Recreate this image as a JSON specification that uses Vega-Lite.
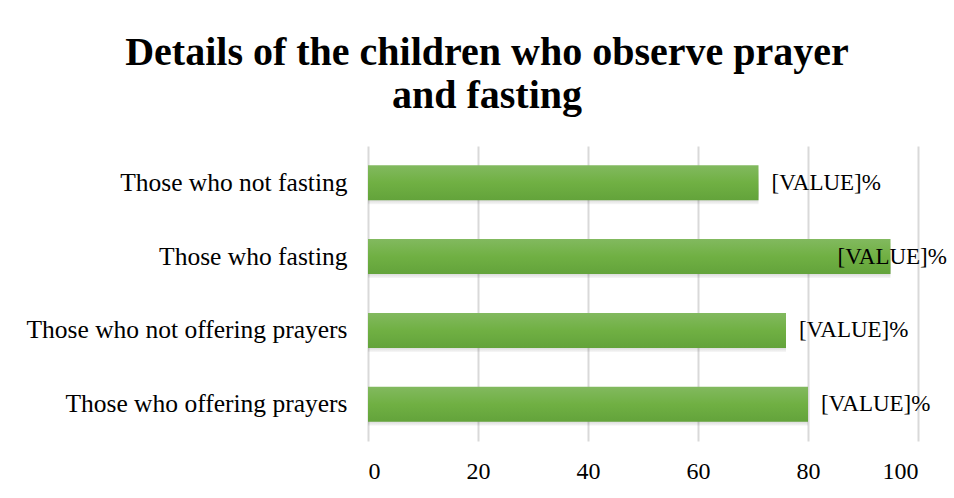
{
  "$schema": "https://vega.github.io/schema/vega-lite/v6.json",
  "width": 550,
  "height": 295,
  "autosize": "none",
  "padding": {"left": 368, "top": 146, "right": 36, "bottom": 57},
  "background": "white",
  "config": {"view": {"stroke": null}},
  "title": {
    "text": ["Details of the children who observe prayer", "and fasting"],
    "font": "Liberation Serif",
    "fontSize": 40,
    "fontWeight": "bold",
    "color": "#000000",
    "lineHeight": 43,
    "anchor": "middle",
    "frame": "group",
    "dx": -156,
    "offset": 30
  },
  "data": {
    "values": [
      {"category": "Those who not fasting\u00a0", "value": 71},
      {"category": "Those who fasting", "value": 95},
      {"category": "Those who not offering prayers", "value": 76},
      {"category": "Those who offering prayers", "value": 80}
    ]
  },
  "encoding": {
    "y": {
      "field": "category",
      "type": "nominal",
      "sort": null,
      "title": null,
      "scale": {"paddingInner": 0.525, "paddingOuter": 0.26},
      "axis": {
        "domain": false,
        "ticks": false,
        "labelFont": "Liberation Serif",
        "labelFontSize": 25.5,
        "labelColor": "#000000",
        "labelPadding": 21,
        "labelLimit": 400
      }
    },
    "x": {
      "field": "value",
      "type": "quantitative",
      "title": null,
      "scale": {"domain": [0, 100], "nice": false},
      "axis": {
        "values": [0, 20, 40, 60, 80, 100],
        "domain": false,
        "ticks": false,
        "grid": true,
        "gridColor": "#d9d9d9",
        "gridWidth": 2,
        "labelFont": "Liberation Serif",
        "labelFontSize": 24,
        "labelColor": "#000000",
        "labelPadding": 18
      }
    }
  },
  "layer": [
    {
      "mark": {
        "type": "bar",
        "yOffset": 4,
        "y2Offset": 4,
        "x2Offset": 3,
        "color": {
          "gradient": "linear",
          "x1": 0, "y1": 0, "x2": 0, "y2": 1,
          "stops": [
            {"offset": 0, "color": "rgba(0,0,0,0.05)"},
            {"offset": 0.7, "color": "rgba(0,0,0,0.3)"},
            {"offset": 1, "color": "rgba(0,0,0,0.03)"}
          ]
        }
      }
    },
    {
      "mark": {
        "type": "bar",
        "color": {
          "gradient": "linear",
          "x1": 0, "y1": 0, "x2": 0, "y2": 1,
          "stops": [
            {"offset": 0, "color": "#82b95f"},
            {"offset": 0.5, "color": "#70b043"},
            {"offset": 1, "color": "#63a33b"}
          ]
        }
      }
    },
    {
      "transform": [{"filter": "datum.category != 'Those who fasting'"}],
      "mark": {
        "type": "text",
        "align": "left",
        "baseline": "middle",
        "dx": 13,
        "font": "Liberation Serif",
        "fontSize": 23,
        "color": "#000000"
      },
      "encoding": {"text": {"value": "[VALUE]%"}}
    },
    {
      "transform": [{"filter": "datum.category == 'Those who fasting'"}],
      "mark": {
        "type": "text",
        "align": "left",
        "baseline": "middle",
        "dx": -53,
        "font": "Liberation Serif",
        "fontSize": 23,
        "color": "#000000"
      },
      "encoding": {"text": {"value": "[VALUE]%"}}
    }
  ]
}
